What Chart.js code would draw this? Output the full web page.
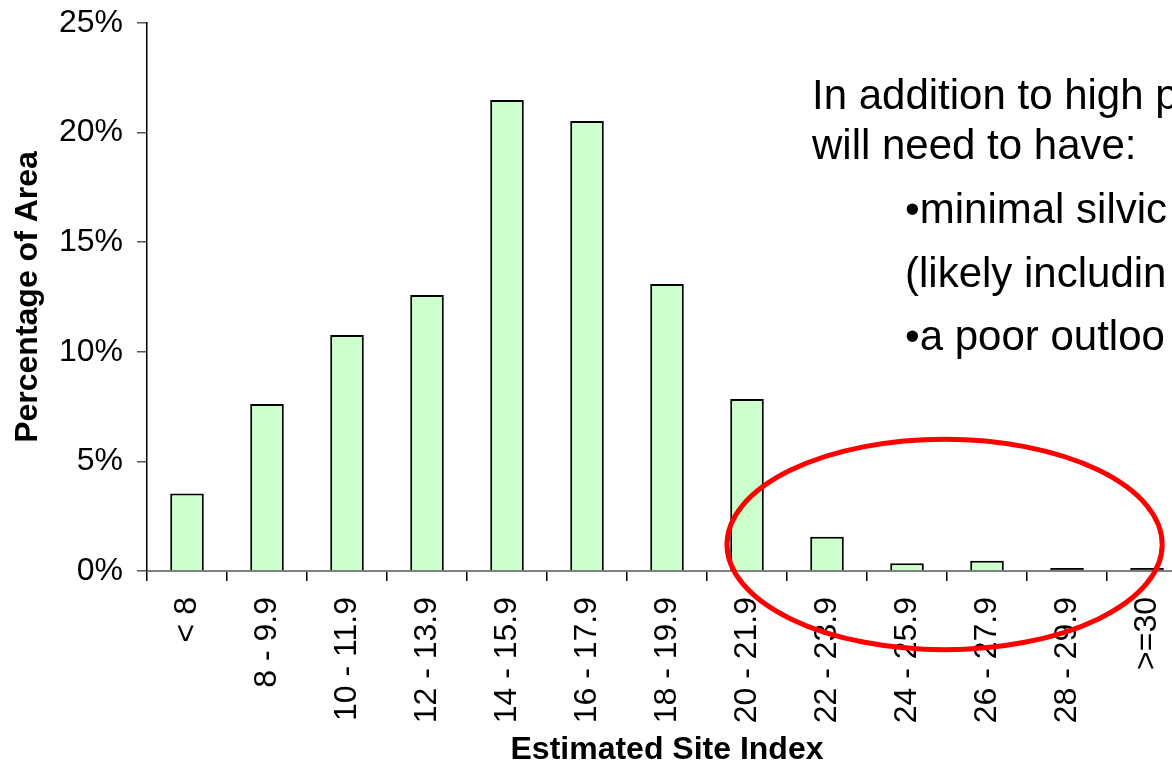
<!DOCTYPE html>
<html>
<head>
<meta charset="utf-8">
<script src="https://cdn.jsdelivr.net/npm/chart.js@4.4.1/dist/chart.umd.min.js"></script>
<style>
  html, body { margin: 0; padding: 0; background: #ffffff; overflow: hidden; width: 1172px; height: 770px; }
  #wrap { position: relative; width: 1172px; height: 770px; overflow: hidden; }
  #c { position: absolute; left: 0; top: 0; }
  .note { position: absolute; font-family: "Liberation Sans", Arial, sans-serif; font-size: 42px; line-height: 42px; color: #000; white-space: nowrap; }
</style>
</head>
<body>
<div id="wrap">
  <canvas id="c" width="1220" height="770"></canvas>
  <div class="note" style="left:812px; top:74px;">In addition to high p</div>
  <div class="note" style="left:812px; top:124px;">will need to have:</div>
  <div class="note" style="left:905px; top:188px;">•minimal silvic</div>
  <div class="note" style="left:905px; top:252px;">(likely includin</div>
  <div class="note" style="left:905px; top:315px;">•a poor outloo</div>
</div>
<script>
const categories = ["< 8", "8 - 9.9", "10 - 11.9", "12 - 13.9", "14 - 15.9", "16 - 17.9", "18 - 19.9", "20 - 21.9", "22 - 23.9", "24 - 25.9", "26 - 27.9", "28 - 29.9", ">=30"];
const areaPercent = [3.54, 7.62, 10.77, 12.59, 21.49, 20.53, 13.09, 7.85, 1.56, 0.35, 0.47, 0.03, 0.02];
const yTicks = [0, 5, 10, 15, 20, 25];
const xTitle = "Estimated Site Index";
const yTitle = "Percentage of Area";

const FONT = '"Liberation Sans", Arial, sans-serif';

const ellipsePlugin = {
  id: 'highlightEllipse',
  afterDraw(chart) {
    const x = chart.scales.x, y = chart.scales.y;
    const cx = x.getPixelForValue(9.47);
    const rx = x.getPixelForValue(9.47 + 2.72) - cx;
    const cy = y.getPixelForValue(1.21);
    const ry = cy - y.getPixelForValue(1.21 + 4.8);
    const ctx = chart.ctx;
    ctx.save();
    ctx.beginPath();
    ctx.ellipse(cx, cy, rx, ry, 0, 0, Math.PI * 2);
    ctx.strokeStyle = '#ff0000';
    ctx.lineWidth = 5;
    ctx.stroke();
    ctx.restore();
  }
};

new Chart(document.getElementById('c'), {
  type: 'bar',
  data: {
    labels: categories,
    datasets: [{
      data: areaPercent,
      backgroundColor: ctx => (ctx.raw !== undefined && ctx.raw < 0.1 ? '#000000' : '#ccffcc'),
      borderColor: '#000000',
      borderWidth: 2,
      borderSkipped: 'start',
      minBarLength: 3,
      barPercentage: 0.42,
      categoryPercentage: 1.0
    }]
  },
  options: {
    responsive: false,
    animation: false,
    events: [],
    layout: { padding: { top: 23, right: 33, left: 0, bottom: 0 } },
    plugins: { legend: { display: false }, tooltip: { enabled: false } },
    scales: {
      x: {
        offset: true,
        grid: { display: true, drawOnChartArea: false, drawTicks: true, tickLength: 10, tickColor: '#000000', offset: true, lineWidth: 1.5 },
        border: { display: true, color: '#808080', width: 2 },
        ticks: { color: '#000000', font: { family: FONT, size: 32 }, minRotation: 90, maxRotation: 90, padding: 16, autoSkip: false },
        title: { display: true, text: xTitle, color: '#000000', font: { family: FONT, size: 32, weight: 'bold' }, padding: { top: 4, bottom: 1 } },
        afterFit(scale) { scale.height = 199; scale.paddingLeft = 0; scale.paddingRight = 0; }
      },
      y: {
        min: 0,
        max: 25,
        afterBuildTicks(scale) { scale.ticks = yTicks.map(v => ({ value: v })); },
        grid: { display: true, drawOnChartArea: false, drawTicks: true, tickLength: 10, tickColor: '#555555', lineWidth: 1.5 },
        border: { display: true, color: '#000000', width: 1.5 },
        ticks: { color: '#000000', font: { family: FONT, size: 32 }, padding: 14, callback: v => v + '%' },
        title: { display: true, text: yTitle, color: '#000000', font: { family: FONT, size: 32, weight: 'bold' }, padding: { top: 9, bottom: 4 } },
        afterFit(scale) { scale.width = 147; scale.paddingTop = 0; scale.paddingBottom = 0; }
      }
    }
  },
  plugins: [ellipsePlugin]
});
</script>
</body>
</html>
